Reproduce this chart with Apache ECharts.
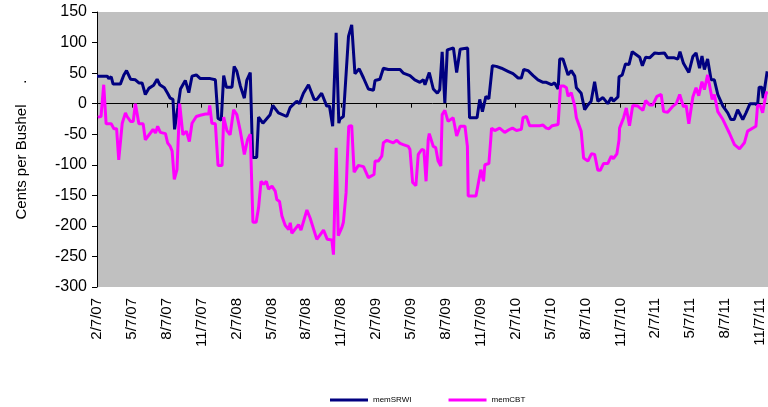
<!DOCTYPE html>
<html lang="en">

<head>
    <meta charset="UTF-8">
    <title>memSRWI / memCBT</title>
    <script src="https://cdn.jsdelivr.net/npm/echarts@6/dist/echarts.min.js"></script>
    <style>
        html, body { margin: 0; padding: 0; background: #fff; }
        #chart { width: 768px; height: 407px; }
    </style>
</head>

<body>
    <div id="chart"></div>

    <script>
        // x = week number counted from 2/7/07, y = cents per bushel
        var tickLabels = ['2/7/07', '5/7/07', '8/7/07', '11/7/07', '2/7/08', '5/7/08', '8/7/08', '11/7/08',
            '2/7/09', '5/7/09', '8/7/09', '11/7/09', '2/7/10', '5/7/10', '8/7/10', '11/7/10',
            '2/7/11', '5/7/11', '8/7/11', '11/7/11'];
        var weeksPerTick = 13;

        var seriesNames = ['memSRWI', 'memCBT'];

        var memSRWI = [
            [0, 45], [3.8, 45], [4.4, 41], [5.3, 44], [6, 32], [8.7, 32], [10, 47], [11, 54], [12.5, 40], [14.3, 39],
            [15.6, 34], [16.8, 34], [18, 15], [19.3, 25], [21.1, 30], [22.4, 40], [23.4, 31], [25.1, 26], [26.3, 17],
            [27.3, 9], [28.3, 7], [28.9, -42], [30.1, -7], [31.1, 24], [32.9, 38], [34.2, 18], [35.4, 45], [37, 47],
            [38.5, 41], [42.2, 41], [44.1, 39], [44.4, 41], [45.1, -24], [46.3, -27], [47.2, 46], [48.2, 27], [50.3, 27],
            [51.1, 61], [52.1, 53], [53.4, 29], [54.9, 9], [55.8, 38], [57.1, 51], [58, -88], [59.5, -88], [60.2, -22],
            [61.8, -32], [64.5, -18], [65.5, -3], [67.6, -15], [70.7, -21], [72, -6], [74.4, 4], [75.4, 0], [76.9, 17],
            [78.8, 31], [80.9, 7], [81.9, 7], [83.7, 17], [85.6, -4], [86.6, -4], [87.8, -37], [89.1, 116], [90.1, -32],
            [90.5, -25], [91.8, -21], [93.7, 110], [94.9, 129], [96.1, 49], [97.7, 57], [99.3, 42], [101.1, 24], [103, 22],
            [103.6, 38], [105.4, 40], [106.7, 58], [108.5, 56], [112.9, 56], [114.1, 50], [116.6, 46], [118.4, 39],
            [120.3, 35], [121.6, 39], [122.2, 31], [123.8, 51], [125.3, 24], [126.8, 17], [127.7, 23], [128.6, 85],
            [129.6, 1], [130.5, 88], [132.8, 91], [134, 51], [135.3, 89], [136.3, 90], [138.1, 91], [138.8, -23],
            [141.6, -23], [142.6, 7], [143.6, -13], [144.9, 12], [146, 8], [147.3, 62], [148.8, 61], [150.7, 58],
            [153.1, 53], [155, 49], [156.9, 42], [158.1, 42], [159, 56], [160.6, 54], [162.5, 46], [164.3, 39],
            [166.2, 35], [167.4, 35], [169.3, 31], [170.5, 34], [171.8, 24], [172.4, 73], [173.6, 73], [175.5, 47],
            [176.7, 54], [178, 45], [178.6, 26], [180.4, 17], [181.7, -10], [182.9, -2], [184.1, 4], [185.4, 36],
            [186.6, 4], [188.5, 10], [190.3, 0], [191.6, 10], [192.4, 4], [194.1, 11], [194.5, 44], [195.7, 47],
            [196.9, 65], [198.2, 64], [199.4, 85], [202.2, 76], [203.2, 62], [204.4, 76], [205.9, 75], [207.8, 83],
            [209.3, 82], [211.4, 83], [212.6, 75], [215.1, 75], [216.4, 73], [217.2, 85], [218.5, 66], [220.5, 51],
            [222, 77], [223.2, 83], [224.5, 58], [225.4, 78], [226.3, 56], [227.5, 73], [228.8, 39], [230, 39],
            [231.3, 15], [233.2, -4], [235, -15], [236.2, -26], [237.4, -26], [238.7, -10], [240.6, -26], [241.8, -15],
            [243.3, 0], [245.3, 0], [246.1, -3], [246.7, 27], [247.7, 27], [248.2, 9], [249.7, 53]
        ];

        var memCBT = [
            [0.3, -22], [1.5, -21], [2.5, 31], [3.4, -33], [5.3, -33], [6.3, -41], [7.3, -41], [8.1, -92], [9.4, -32],
            [10.6, -15], [11.2, -21], [12.5, -29], [13.5, -29], [14.3, 0], [15.6, -33], [17.2, -33], [18, -59],
            [19.9, -48], [20.9, -42], [21.8, -48], [22.6, -37], [23.6, -47], [25.5, -49], [26.3, -64], [27.3, -70],
            [28, -78], [28.8, -124], [29.8, -108], [30.8, 0], [32, -51], [33.3, -45], [34.4, -62], [35.4, -32],
            [37, -21], [38.5, -19], [40.4, -17], [41.6, -17], [42, -3], [42.8, -32], [44.1, -33], [45.1, -101],
            [46.6, -101], [47.2, -22], [48.4, -44], [49.6, -51], [50.9, -10], [52.1, -18], [53.4, -45], [54.4, -70],
            [54.9, -83], [56.1, -59], [57.1, -50], [58.1, -194], [59.3, -194], [60.2, -170], [61.1, -127], [62.1, -132],
            [63.1, -127], [63.9, -140], [65.2, -135], [66.4, -143], [67, -157], [68, -160], [68.9, -184], [70.1, -199],
            [71.4, -206], [72, -195], [72.6, -212], [75.1, -198], [76, -207], [78.2, -174], [79.4, -187], [81.9, -222],
            [84.4, -207], [85.8, -222], [87.5, -223], [88.1, -247], [89.1, -72], [89.9, -216], [91.2, -203],
            [91.8, -194], [92.8, -146], [93.2, -97], [93.8, -37], [94.9, -36], [95.8, -112], [97.4, -101], [99.3, -103],
            [101.1, -121], [103.2, -116], [103.6, -94], [104.8, -94], [106.1, -86], [106.7, -64], [108, -60],
            [110.4, -64], [111.7, -60], [112.9, -65], [114.1, -67], [116, -70], [116.6, -75], [117.6, -129],
            [118.8, -134], [119.7, -83], [121, -75], [121.8, -76], [122.6, -127], [123.4, -59], [123.8, -49],
            [125.3, -70], [126.2, -72], [127.1, -94], [128.1, -102], [128.6, -18], [129.6, -11], [130.8, -29],
            [132.7, -23], [134, -53], [135.3, -37], [137.1, -37], [138, -70], [138.3, -151], [141.2, -151], [143, -108],
            [144, -127], [144.5, -100], [146, -98], [146.7, -59], [147, -40], [148.2, -44], [150, -40], [151.9, -47],
            [153.8, -42], [154.8, -40], [156.3, -44], [158.1, -42], [158.7, -23], [160, -21], [161.2, -36],
            [164.9, -36], [166.2, -35], [167.4, -40], [168.4, -41], [169.6, -36], [171.8, -34], [172.7, 29],
            [173.9, 29], [174.9, 26], [175.5, 12], [176.7, 18], [178, -4], [178.6, -23], [180.4, -45], [181.3, -89],
            [182.9, -94], [184.2, -82], [185.4, -83], [186.6, -109], [187.5, -109], [188.7, -98], [190.3, -98],
            [191.6, -86], [192.4, -90], [193.7, -82], [194.5, -59], [194.7, -40], [196.2, -23], [197.2, -7],
            [198.4, -36], [199.6, -3], [201.5, -4], [203.4, -11], [204.4, 5], [205.9, -2], [207.1, -2], [208.6, 12],
            [210.2, 15], [211.1, -13], [212.6, -14], [214.6, -4], [215.8, 0], [217.1, 15], [218.5, -5], [219.5, -3],
            [220.5, -33], [222, 11], [223.2, 26], [224.2, 13], [225.4, 36], [226.3, 23], [227.5, 47], [229.2, 7],
            [230, 15], [231.3, -13], [233.2, -26], [235.6, -48], [237.5, -67], [239.4, -74], [239.7, -75],
            [241.2, -64], [242.4, -45], [245.5, -37], [246.1, -3], [247.1, -3], [248, -15], [249.2, 15], [249.7, 20]
        ];

        var font = 'Arial, "Liberation Sans", sans-serif';

        var myChart = echarts.init(document.getElementById('chart'));

        var option = {
            animation: false,
            grid: {
                left: 97,
                right: 0,
                top: 12,
                bottom: 120,
                show: true,
                backgroundColor: '#c0c0c0',
                borderWidth: 0
            },
            legend: {
                data: seriesNames,
                left: 330,
                top: 396,
                padding: 0,
                icon: 'rect',
                itemWidth: 38,
                itemHeight: 3,
                itemGap: 37,
                textStyle: { fontSize: 8, color: '#000', fontFamily: font }
            },
            xAxis: [{
                // labels along the bottom
                type: 'value',
                min: 0,
                max: 250,
                interval: weeksPerTick,
                position: 'bottom',
                axisLine: { show: false, onZero: false },
                axisTick: { show: false },
                splitLine: { show: false },
                axisLabel: {
                    rotate: 90,
                    margin: 11,
                    fontSize: 15,
                    color: '#000',
                    fontFamily: font,
                    showMaxLabel: false,
                    formatter: function (v) {
                        var i = Math.round(v / weeksPerTick);
                        return Math.abs(i * weeksPerTick - v) < 0.01 && tickLabels[i] ? tickLabels[i] : '';
                    }
                }
            }, {
                // axis line that crosses at zero
                type: 'value',
                min: 0,
                max: 250,
                interval: weeksPerTick,
                position: 'bottom',
                axisLine: { show: true, onZero: true, lineStyle: { color: '#000', width: 1 } },
                axisTick: { show: true, inside: false, length: 4, lineStyle: { color: '#000' } },
                axisLabel: { show: false },
                splitLine: { show: false }
            }],
            yAxis: {
                type: 'value',
                min: -300,
                max: 150,
                interval: 50,
                name: 'Cents per Bushel     .',
                nameLocation: 'middle',
                nameGap: 68,
                nameTextStyle: { fontSize: 15, color: '#000', fontFamily: font },
                axisLine: { show: true, lineStyle: { color: '#000', width: 1 } },
                axisTick: { show: true, length: 5, lineStyle: { color: '#000' } },
                axisLabel: { fontSize: 16, color: '#000', fontFamily: font, margin: 10 },
                splitLine: { show: false }
            },
            series: [{
                name: seriesNames[0],
                type: 'line',
                xAxisIndex: 0,
                symbol: 'none',
                lineStyle: { color: '#000080', width: 3 },
                itemStyle: { color: '#000080' },
                data: memSRWI
            }, {
                name: seriesNames[1],
                type: 'line',
                xAxisIndex: 0,
                symbol: 'none',
                lineStyle: { color: '#ff00ff', width: 3 },
                itemStyle: { color: '#ff00ff' },
                data: memCBT
            }]
        };

        myChart.setOption(option);
    </script>
</body>

</html>
